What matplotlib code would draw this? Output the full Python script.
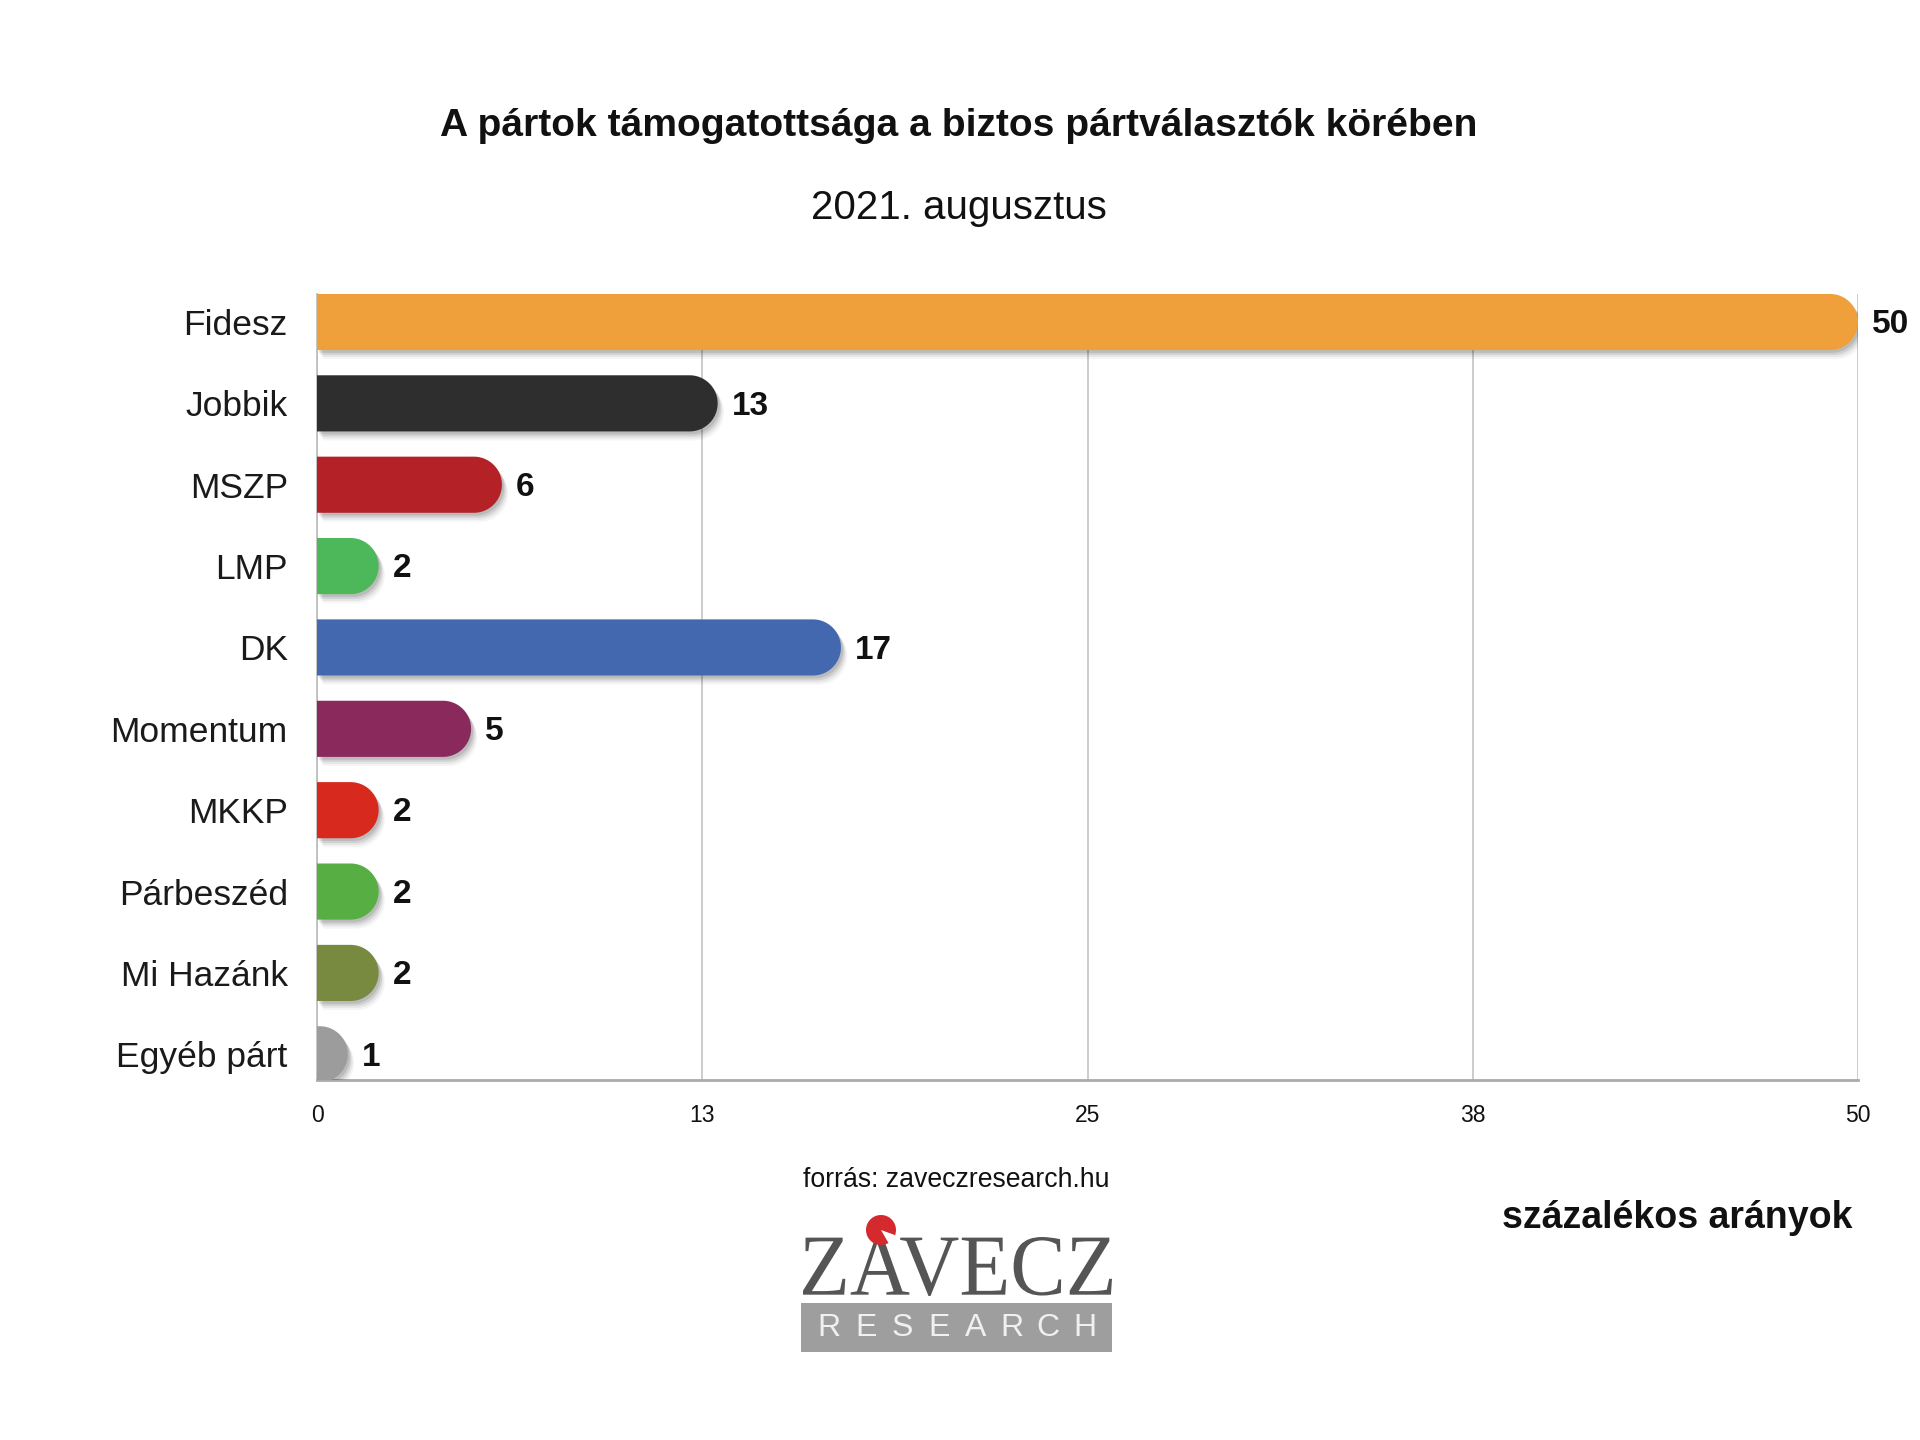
import numpy as np
import matplotlib
matplotlib.use("Agg")
import matplotlib.pyplot as plt
from matplotlib.path import Path
from matplotlib.patches import PathPatch, Rectangle, Wedge
from matplotlib.textpath import TextPath
from matplotlib.font_manager import FontProperties
from matplotlib.transforms import Affine2D
import matplotlib.patheffects as pe

# ---- data ----
parties = ["Fidesz", "Jobbik", "MSZP", "LMP", "DK", "Momentum", "MKKP",
           "Párbeszéd", "Mi Hazánk", "Egyéb párt"]
values = [50, 13, 6, 2, 17, 5, 2, 2, 2, 1]
colors = ["#F0A03A", "#2E2E2E", "#B42228", "#4DB85A", "#4468B0", "#8A2A5C",
          "#D8291F", "#57AF43", "#788A40", "#9C9C9C"]
tick_pos = [0, 12.5, 25, 37.5, 50]
tick_labels = ["0", "13", "25", "38", "50"]

title = "A pártok támogatottsága a biztos pártválasztók körében"
subtitle = "2021. augusztus"
source = "forrás: zaveczresearch.hu"
unit_note = "százalékos arányok"

plt.rcParams["font.family"] = ["Liberation Sans", "DejaVu Sans"]

W, H = 1920, 1440
fig = plt.figure(figsize=(19.2, 14.4), dpi=100)
ax_l, ax_b, ax_w, ax_h = 317 / W, 360 / H, 1541 / W, 786 / H
ax = fig.add_axes([ax_l, ax_b, ax_w, ax_h])
xmin, xmax = 0, 50
ylo, yhi = 9.316, -0.344
ax.set_xlim(xmin, xmax)
ax.set_ylim(ylo, yhi)

# pixel scales
sx = ax_w * W / (xmax - xmin)          # px per x unit
sy = ax_h * H / abs(ylo - yhi)         # px per y unit

bar_h = 0.69
r_px = bar_h * sy / 2

for i, (v, c) in enumerate(zip(values, colors)):
    rx = r_px / sx
    ry = bar_h / 2
    cx = max(v - rx, 0)
    th = np.linspace(-np.pi / 2, np.pi / 2, 60)
    arc_x = cx + rx * np.cos(th)
    arc_y = i + ry * np.sin(th)
    verts = [(0, i - ry)] + list(zip(arc_x, arc_y)) + [(0, i + ry), (0, i - ry)]
    codes = [Path.MOVETO] + [Path.LINETO] * (len(verts) - 2) + [Path.CLOSEPOLY]
    patch = PathPatch(Path(verts, codes), facecolor=c, edgecolor="none", zorder=3)
    patch.set_path_effects([
        pe.SimplePatchShadow(offset=(1.5, -2.0), shadow_rgbFace="#000000", alpha=0.10),
        pe.SimplePatchShadow(offset=(2.5, -3.5), shadow_rgbFace="#000000", alpha=0.09),
        pe.SimplePatchShadow(offset=(3.5, -5.0), shadow_rgbFace="#000000", alpha=0.06),
        pe.SimplePatchShadow(offset=(4.5, -6.5), shadow_rgbFace="#000000", alpha=0.04),
        pe.Normal(),
    ])
    ax.add_patch(patch)
    ax.annotate(str(v), xy=(v, i), xytext=(10, -2), textcoords="offset points",
                ha="left", va="center", fontsize=24, fontweight="bold",
                color="#111111", zorder=4)

ax.set_yticks(range(len(parties)))
ax.set_yticklabels(parties, fontsize=25.5, color="#1a1a1a")
ax.set_xticks(tick_pos)
ax.set_xticklabels(tick_labels, fontsize=16.5, color="#111111")
ax.tick_params(axis="both", length=0)
ax.tick_params(axis="y", pad=21)
ax.tick_params(axis="x", pad=17)

ax.grid(axis="x", color="#C4C4C4", linewidth=1.2, zorder=0)
ax.set_axisbelow(True)
for s in ["top", "right"]:
    ax.spines[s].set_visible(False)
ax.spines["left"].set_color("#BBBBBB")
ax.spines["left"].set_linewidth(1.2)
ax.spines["bottom"].set_color("#AAAAAA")
ax.spines["bottom"].set_linewidth(2)

# ---- texts ----
fig.text(959 / W, 1 - 126 / H, title, ha="center", va="center",
         fontsize=28.1, fontweight="bold", color="#111111")
fig.text(959 / W, 1 - 208 / H, subtitle, ha="center", va="center",
         fontsize=29, color="#111111")
fig.text(956 / W, 1 - 1180 / H, source, ha="center", va="center",
         fontsize=19.2, color="#111111")
fig.text(1677 / W, 1 - 1218 / H, unit_note, ha="center", va="center",
         fontsize=27, fontweight="bold", color="#111111")

# ---- logo ----
px = Affine2D().scale(1 / W, 1 / H) + fig.transFigure   # pixel (from bottom) -> figure
tp = TextPath((0, 0), "ZAVECZ", size=1,
              prop=FontProperties(family=["Liberation Serif", "DejaVu Serif"]))
ext = tp.get_extents()
x0, y0, x1, y1 = 803, 1440 - 1296, 1112, 1440 - 1237
tr = (Affine2D().translate(-ext.x0, -ext.y0)
      .scale((x1 - x0) / ext.width, (y1 - y0) / ext.height)
      .translate(x0, y0))
logo = PathPatch(tr.transform_path(tp), facecolor="#555555", edgecolor="none",
                 transform=px)
fig.patches.append(logo)
fig.patches.append(Rectangle((801, 1440 - 1352), 311, 49, transform=px,
                             facecolor="#9E9E9E", edgecolor="none"))
letters = "RESEARCH"
for k, ch in enumerate(letters):
    x_px = 829 + k * (1085 - 829) / (len(letters) - 1)
    fig.text(x_px / W, 1 - 1328 / H, ch, ha="center", va="center",
             fontsize=23, color="#F0F0F0")
# red dot accent (pie shaped)
fig.patches.append(Wedge((881, 1440 - 1230), 15, -20, 300, transform=px,
                         facecolor="#D42A2E", edgecolor="none"))

fig.savefig("out.png", dpi=100, facecolor="white")
